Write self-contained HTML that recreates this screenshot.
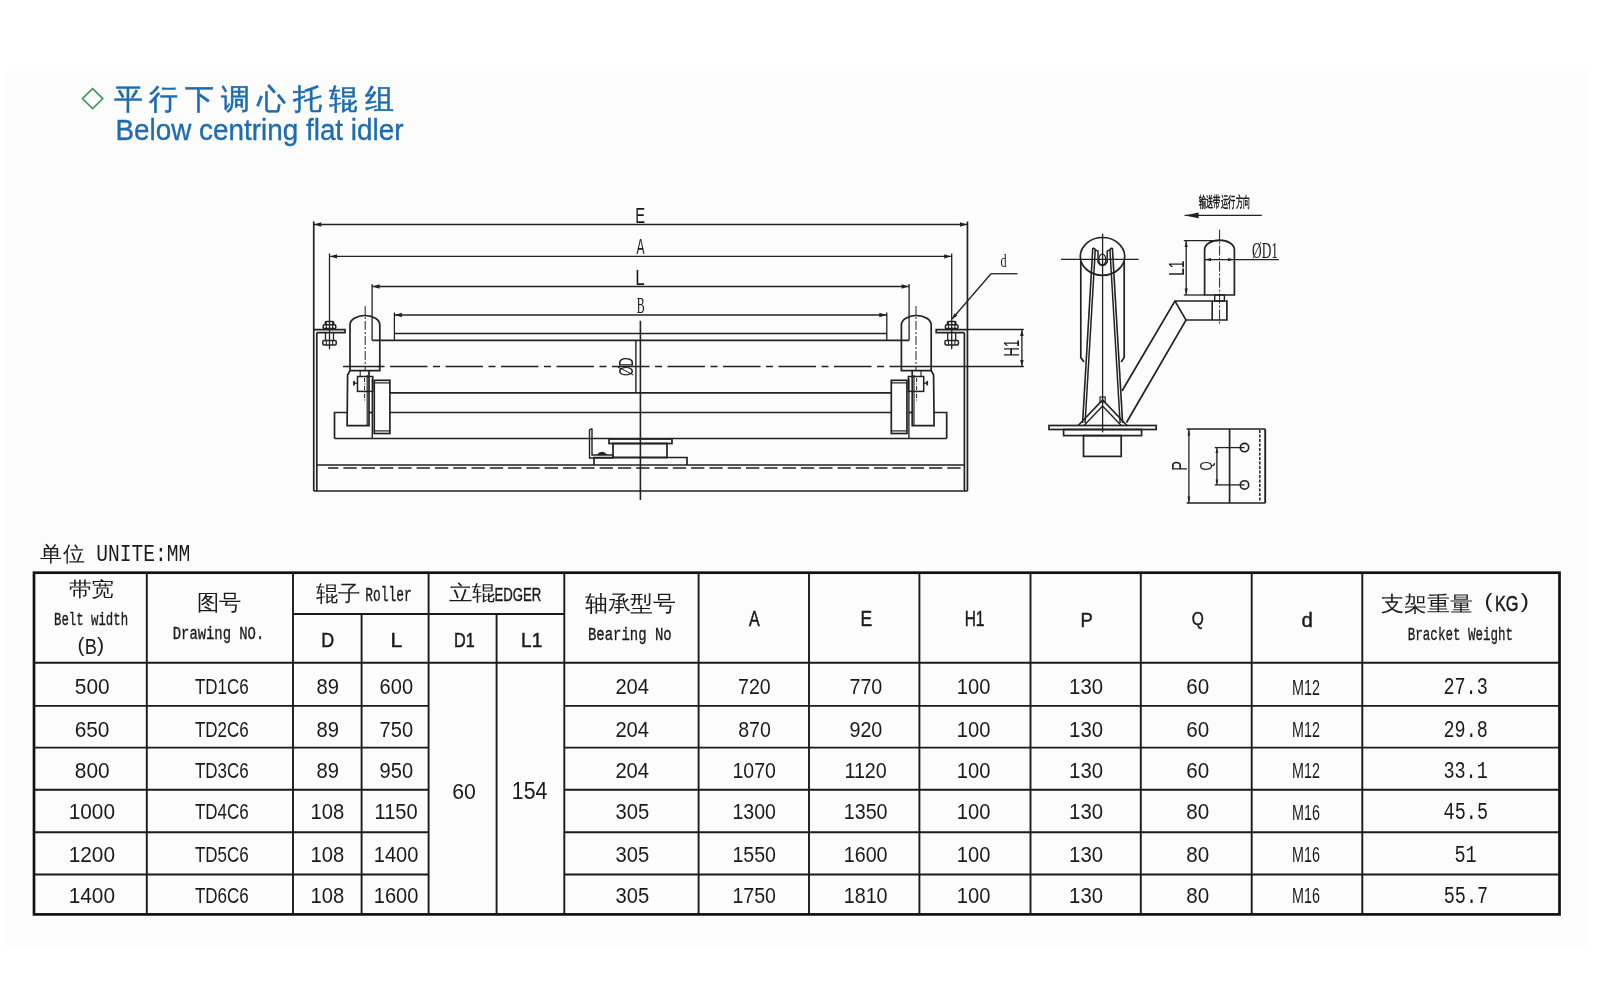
<!DOCTYPE html>
<html><head><meta charset="utf-8">
<style>
html,body{margin:0;padding:0;background:#fff;}
body{width:1600px;height:1007px;overflow:hidden;position:relative;font-family:"Liberation Sans",sans-serif;}
svg{position:absolute;left:0;top:0;} text{-webkit-font-smoothing:antialiased;} body{will-change:transform;}
</style></head><body>
<svg width="1600" height="1007" viewBox="0 0 1600 1007">
<rect x="6" y="71" width="1582" height="875" fill="#fcfcfc"/>
<polygon points="92.6,88.6 102.8,98.6 92.6,108.6 82.4,98.6" fill="none" stroke="#3a9a5e" stroke-width="1.6"/>
<text x="113.5" y="109" font-size="29" font-weight="500" fill="#1d6bb0" stroke="#1d6bb0" stroke-width="0.5" font-family="Liberation Sans" textLength="280" lengthAdjust="spacing">平行下调心托辊组</text>
<text x="115.5" y="139.5" font-size="29" fill="#1d6bb0" stroke="#1d6bb0" stroke-width="0.35" font-family="Liberation Sans" textLength="288" lengthAdjust="spacingAndGlyphs">Below centring flat idler</text>
<g stroke="#222" stroke-linecap="butt" fill="none">
<line x1="313.75" y1="224.5" x2="967.45" y2="224.5" stroke-width="1.3" />
<polygon points="314.25,224.5 321.25,222.3 321.25,226.7" fill="#222" stroke="none"/>
<polygon points="966.95,224.5 959.95,226.7 959.95,222.3" fill="#222" stroke="none"/>
<line x1="329.5" y1="256.4" x2="951.7" y2="256.4" stroke-width="1.3" />
<polygon points="330.0,256.4 337.0,254.2 337.0,258.6" fill="#222" stroke="none"/>
<polygon points="951.2,256.4 944.2,258.6 944.2,254.2" fill="#222" stroke="none"/>
<line x1="372.1" y1="286.5" x2="909.1" y2="286.5" stroke-width="1.3" />
<polygon points="372.6,286.5 379.6,284.3 379.6,288.7" fill="#222" stroke="none"/>
<polygon points="908.6,286.5 901.6,288.7 901.6,284.3" fill="#222" stroke="none"/>
<line x1="394.4" y1="315.0" x2="886.8" y2="315.0" stroke-width="1.3" />
<polygon points="394.9,315.0 401.9,312.8 401.9,317.2" fill="#222" stroke="none"/>
<polygon points="886.3,315.0 879.3,317.2 879.3,312.8" fill="#222" stroke="none"/>
<line x1="313.75" y1="221.5" x2="313.75" y2="491" stroke-width="1.7" />
<line x1="967.45" y1="221.5" x2="967.45" y2="491" stroke-width="1.7" />
<line x1="329.5" y1="253.5" x2="329.5" y2="323" stroke-width="1.3" />
<line x1="951.7" y1="253.5" x2="951.7" y2="323" stroke-width="1.3" />
<line x1="372.1" y1="284" x2="372.1" y2="340.3" stroke-width="1.3" />
<line x1="909.1" y1="284" x2="909.1" y2="340.3" stroke-width="1.3" />
<line x1="394.4" y1="312.5" x2="394.4" y2="340.3" stroke-width="1.3" />
<line x1="886.8" y1="312.5" x2="886.8" y2="340.3" stroke-width="1.3" />
<line x1="316.8" y1="332.5" x2="316.8" y2="491" stroke-width="1.7" />
<line x1="964.4" y1="332.5" x2="964.4" y2="491" stroke-width="1.7" />
<polyline points="313.75,329.7 345,329.7 345,332.6 316.8,332.6" fill="none" stroke-width="1.7" />
<polyline points="967.45,329.7 936.2,329.7 936.2,332.6 964.4,332.6" fill="none" stroke-width="1.7" />
<line x1="316.8" y1="465" x2="964.4" y2="465" stroke-width="1.7" />
<line x1="328.1" y1="468" x2="964" y2="468" stroke-width="1.6" stroke-dasharray="13.3 5" stroke-dashoffset="3"/>
<line x1="313.75" y1="491" x2="967.45" y2="491" stroke-width="1.7" />
<line x1="329.5" y1="323" x2="329.5" y2="349.3" stroke-width="1.3" />
<path d="M325.3,325 L325.3,322.6 Q325.3,321.4 326.5,321.4 L332.5,321.4 Q333.7,321.4 333.7,322.6 L333.7,325" stroke-width="1.5"/>
<rect x="323.2" y="324.8" width="12.6" height="3.8" rx="1.2" stroke-width="1.5"/>
<line x1="326.3" y1="321.4" x2="326.3" y2="328.6" stroke-width="1.1" />
<line x1="332.7" y1="321.4" x2="332.7" y2="328.6" stroke-width="1.1" />
<line x1="325.5" y1="333" x2="325.5" y2="340.4" stroke-width="1.3" />
<line x1="333.5" y1="333" x2="333.5" y2="340.4" stroke-width="1.3" />
<rect x="322.8" y="340.4" width="13.4" height="4.5" rx="1.2" stroke-width="1.5"/>
<line x1="326.3" y1="340.4" x2="326.3" y2="344.9" stroke-width="1.1" />
<line x1="332.7" y1="340.4" x2="332.7" y2="344.9" stroke-width="1.1" />
<line x1="951.7" y1="323" x2="951.7" y2="349.3" stroke-width="1.3" />
<path d="M947.5,325 L947.5,322.6 Q947.5,321.4 948.7,321.4 L954.7,321.4 Q955.9000000000001,321.4 955.9000000000001,322.6 L955.9000000000001,325" stroke-width="1.5"/>
<rect x="945.4000000000001" y="324.8" width="12.6" height="3.8" rx="1.2" stroke-width="1.5"/>
<line x1="948.5" y1="321.4" x2="948.5" y2="328.6" stroke-width="1.1" />
<line x1="954.9000000000001" y1="321.4" x2="954.9000000000001" y2="328.6" stroke-width="1.1" />
<line x1="947.7" y1="333" x2="947.7" y2="340.4" stroke-width="1.3" />
<line x1="955.7" y1="333" x2="955.7" y2="340.4" stroke-width="1.3" />
<rect x="945.0" y="340.4" width="13.4" height="4.5" rx="1.2" stroke-width="1.5"/>
<line x1="948.5" y1="340.4" x2="948.5" y2="344.9" stroke-width="1.1" />
<line x1="954.9000000000001" y1="340.4" x2="954.9000000000001" y2="344.9" stroke-width="1.1" />
<path d="M350,370.6 L350,325 A14.9,9.5 0 0 1 379.8,325 L379.8,370.6 Z" stroke-width="1.7"/>
<line x1="365.2" y1="306" x2="365.2" y2="370.6" stroke-width="1.0" stroke-dasharray="9 2 2 2"/>
<polyline points="350,370.6 347.6,375 347.1,425.7 369,425.7 369,370.6" fill="none" stroke-width="1.7" />
<line x1="367.2" y1="375" x2="367.2" y2="425.7" stroke-width="1.2" />
<rect x="357.5" y="376.5" width="15.3" height="14.9" fill="none" stroke-width="1.5" />
<line x1="353.6" y1="383.2" x2="357.5" y2="383.2" stroke-width="1.3" />
<line x1="354" y1="381" x2="354" y2="385.4" stroke-width="1.8" />
<line x1="360.2" y1="370.6" x2="360.2" y2="376.5" stroke-width="1.1" />
<line x1="364.6" y1="378" x2="364.6" y2="402" stroke-width="1.0" stroke-dasharray="4 1.5 1 1.5"/>
<rect x="374.25" y="380.3" width="15.65" height="53.2" fill="none" stroke-width="1.7" />
<line x1="374.25" y1="382.9" x2="389.9" y2="382.9" stroke-width="1.2" />
<line x1="374.25" y1="430.9" x2="389.9" y2="430.9" stroke-width="1.2" />
<line x1="372.3" y1="378.5" x2="372.3" y2="438.5" stroke-width="1.4" />
<polyline points="347.2,412.5 334.5,412.5 334.5,438.5" fill="none" stroke-width="1.7" />
<line x1="369" y1="412.5" x2="372.3" y2="412.5" stroke-width="1.7" />
<path d="M931.2,370.6 L931.2,325 A14.9,9.5 0 0 0 901.4,325 L901.4,370.6 Z" stroke-width="1.7"/>
<line x1="916.0" y1="306" x2="916.0" y2="370.6" stroke-width="1.0" stroke-dasharray="9 2 2 2"/>
<polyline points="931.2,370.6 933.6,375 934.1,425.7 912.2,425.7 912.2,370.6" fill="none" stroke-width="1.7" />
<line x1="914.0" y1="375" x2="914.0" y2="425.7" stroke-width="1.2" />
<rect x="908.4" y="376.5" width="15.3" height="14.9" fill="none" stroke-width="1.5" />
<line x1="927.6" y1="383.2" x2="923.7" y2="383.2" stroke-width="1.3" />
<line x1="927.2" y1="381" x2="927.2" y2="385.4" stroke-width="1.8" />
<line x1="921.0" y1="370.6" x2="921.0" y2="376.5" stroke-width="1.1" />
<line x1="916.6" y1="378" x2="916.6" y2="402" stroke-width="1.0" stroke-dasharray="4 1.5 1 1.5"/>
<rect x="891.3" y="380.3" width="15.65" height="53.2" fill="none" stroke-width="1.7" />
<line x1="906.95" y1="382.9" x2="891.3" y2="382.9" stroke-width="1.2" />
<line x1="906.95" y1="430.9" x2="891.3" y2="430.9" stroke-width="1.2" />
<line x1="908.9" y1="378.5" x2="908.9" y2="438.5" stroke-width="1.4" />
<polyline points="934.0,412.5 946.7,412.5 946.7,438.5" fill="none" stroke-width="1.7" />
<line x1="912.2" y1="412.5" x2="908.9" y2="412.5" stroke-width="1.7" />
<line x1="394.4" y1="333.5" x2="886.8" y2="333.5" stroke-width="1.7" />
<line x1="372.1" y1="340.3" x2="909.1" y2="340.3" stroke-width="1.7" />
<line x1="389.9" y1="392.8" x2="891.3" y2="392.8" stroke-width="1.7" />
<line x1="389.9" y1="412.5" x2="891.3" y2="412.5" stroke-width="1.7" />
<line x1="334.5" y1="438.5" x2="946.7" y2="438.5" stroke-width="1.7" />
<line x1="343" y1="366.5" x2="380" y2="366.5" stroke-width="1.4" />
<line x1="377.5" y1="366.5" x2="901" y2="366.5" stroke-width="1.4" stroke-dasharray="7 5.5 37.5 5.5"/>
<line x1="901" y1="366.5" x2="1023.75" y2="366.5" stroke-width="1.3" />
<line x1="640.4" y1="320.75" x2="640.4" y2="500" stroke-width="1.6" />
<line x1="635.9" y1="340.3" x2="635.9" y2="392.8" stroke-width="1.4" />
<polyline points="592,428.5 589.5,430 589.5,458 613,458 613,455 592,455 592,428.5" fill="none" stroke-width="1.4" />
<path d="M596.5,455 Q602,448.5 607.5,455 Z" fill="#222" stroke="none"/>
<rect x="609" y="439" width="63" height="4.5" fill="none" stroke-width="1.7" />
<rect x="613" y="443.5" width="54" height="14.0" fill="none" stroke-width="1.7" />
<polyline points="594,465 594,457.5 687,457.5 687,465" fill="none" stroke-width="1.7" />
<line x1="952" y1="319" x2="991" y2="273.75" stroke-width="1.3" />
<line x1="991" y1="273.75" x2="1017.5" y2="273.75" stroke-width="1.3" />
<polygon points="952,319 954.4,313.15 957.43,315.76" fill="#222" stroke="none"/>
<line x1="967.5" y1="329.5" x2="1023.75" y2="329.5" stroke-width="1.3" />
<line x1="1021.9" y1="329.5" x2="1021.9" y2="366.5" stroke-width="1.3" />
<polygon points="1021.9,330 1023.7,336.0 1020.1,336.0" fill="#222" stroke="none"/>
<polygon points="1021.9,366 1020.1,360.0 1023.7,360.0" fill="#222" stroke="none"/>
<line x1="1184.6" y1="215.4" x2="1261.8" y2="215.4" stroke-width="1.2" />
<polygon points="1184.6,215.4 1198.6,212.6 1198.6,218.2" fill="#222" stroke="none"/>
<ellipse cx="1102.5" cy="256.4" rx="22.2" ry="18.9" stroke-width="1.7"/>
<line x1="1061" y1="259.3" x2="1138.6" y2="259.3" stroke-width="1.3" />
<line x1="1102.6" y1="233.6" x2="1102.6" y2="432.4" stroke-width="1.3" />
<polyline points="1080.8,261 1080.8,357.6 1084,362" fill="none" stroke-width="1.7" />
<polyline points="1124.2,261 1124.2,357.6 1121.2,362" fill="none" stroke-width="1.7" />
<line x1="1092.8" y1="248" x2="1082.6" y2="423" stroke-width="1.6" />
<line x1="1095.3" y1="249" x2="1085.1" y2="423" stroke-width="1.5" />
<line x1="1092.8" y1="248" x2="1095.3" y2="249" stroke-width="1.4" />
<line x1="1112.4" y1="248" x2="1122.6" y2="423" stroke-width="1.6" />
<line x1="1109.9" y1="249" x2="1120.1" y2="423" stroke-width="1.5" />
<line x1="1112.4" y1="248" x2="1109.9" y2="249" stroke-width="1.4" />
<path d="M1095.2,250 L1098,251 L1098,262 Q1102.6,269 1107.2,262 L1107.2,251 L1110,250" stroke-width="1.5"/>
<ellipse cx="1102.3" cy="259.5" rx="3.4" ry="5.4" stroke-width="1.3"/>
<polyline points="1078.2,425.5 1102.6,400 1127,425.5" fill="none" stroke-width="1.7" />
<polyline points="1084,425.5 1102.6,406 1121.2,425.5" fill="none" stroke-width="1.4" />
<rect x="1100" y="397" width="5.2" height="5" fill="none" stroke-width="1.2" />
<rect x="1049" y="425.5" width="107.2" height="4.0" fill="none" stroke-width="1.7" />
<rect x="1063.6" y="429.5" width="78.0" height="6.1" fill="none" stroke-width="1.7" />
<rect x="1083.5" y="435.6" width="37.7" height="20.8" fill="none" stroke-width="1.7" />
<polyline points="1122,391 1174.9,301 1226.9,301 1226.9,320 1186,320 1126.5,422.5" fill="none" stroke-width="1.7" />
<line x1="1174.9" y1="301" x2="1186" y2="320" stroke-width="1.5" />
<line x1="1212.2" y1="301" x2="1212.2" y2="320" stroke-width="1.6" />
<rect x="1214.7" y="295" width="9.7" height="6" fill="none" stroke-width="1.4" />
<path d="M1204.6,295 L1204.6,249.5 A14.9,9.3 0 0 1 1234.4,249.5 L1234.4,295 Z" stroke-width="1.7"/>
<line x1="1219.6" y1="229.6" x2="1219.6" y2="324.6" stroke-width="1.0" stroke-dasharray="10 2 2 2"/>
<line x1="1183.8" y1="240.6" x2="1219.6" y2="240.6" stroke-width="1.3" />
<line x1="1183.8" y1="295" x2="1204.4" y2="295" stroke-width="1.3" />
<line x1="1186.2" y1="240.6" x2="1186.2" y2="295" stroke-width="1.3" />
<polygon points="1186.2,241 1187.8,247.0 1184.6,247.0" fill="#222" stroke="none"/>
<polygon points="1186.2,294.5 1184.6,288.5 1187.8,288.5" fill="#222" stroke="none"/>
<line x1="1204.4" y1="259.6" x2="1278.9" y2="259.6" stroke-width="1.3" />
<polygon points="1205,259.6 1211.0,258.0 1211.0,261.2" fill="#222" stroke="none"/>
<polygon points="1234,259.6 1228.0,261.2 1228.0,258.0" fill="#222" stroke="none"/>
<line x1="1186.6" y1="429" x2="1265.2" y2="429" stroke-width="1.7" />
<line x1="1186.6" y1="503" x2="1265.2" y2="503" stroke-width="1.7" />
<line x1="1229.6" y1="429" x2="1229.6" y2="503" stroke-width="1.7" />
<line x1="1265.2" y1="429" x2="1265.2" y2="503" stroke-width="1.9" />
<line x1="1259.8" y1="430" x2="1259.8" y2="502" stroke-width="1.5" stroke-dasharray="3 1.5"/>
<circle cx="1244.5" cy="447.6" r="4.2" stroke-width="1.6"/>
<circle cx="1244.5" cy="484.9" r="4.2" stroke-width="1.6"/>
<line x1="1214.7" y1="447.6" x2="1244.5" y2="447.6" stroke-width="1.3" />
<line x1="1214.7" y1="484.9" x2="1244.5" y2="484.9" stroke-width="1.3" />
<line x1="1216.9" y1="447.6" x2="1216.9" y2="484.9" stroke-width="1.3" />
<polygon points="1216.9,448 1218.3,453.0 1215.5,453.0" fill="#222" stroke="none"/>
<polygon points="1216.9,484.5 1215.5,479.5 1218.3,479.5" fill="#222" stroke="none"/>
<line x1="1188.9" y1="429" x2="1188.9" y2="503" stroke-width="1.3" />
<polygon points="1188.9,429.5 1190.3,435.5 1187.5,435.5" fill="#222" stroke="none"/>
<polygon points="1188.9,502.5 1187.5,496.5 1190.3,496.5" fill="#222" stroke="none"/>
</g>
<text x="0" y="0" font-size="100" font-family="Liberation Sans" font-weight="400" fill="#1a1a1a" transform="translate(635.31,222.50) scale(0.1481,0.2246)">E</text>
<text x="0" y="0" font-size="100" font-family="Liberation Sans" font-weight="400" fill="#1a1a1a" transform="translate(636.50,254.00) scale(0.1212,0.2174)">A</text>
<text x="0" y="0" font-size="100" font-family="Liberation Sans" font-weight="400" fill="#1a1a1a" transform="translate(635.14,285.00) scale(0.1705,0.2174)">L</text>
<text x="0" y="0" font-size="100" font-family="Liberation Serif" font-weight="400" fill="#1a1a1a" transform="translate(636.64,312.50) scale(0.1186,0.2385)">B</text>
<text x="0" y="0" font-size="100" font-family="Liberation Serif" font-weight="400" fill="#1a1a1a" transform="translate(1000.51,266.81) scale(0.1222,0.1929)">d</text>
<text x="0" y="0" font-size="100" font-family="Liberation Sans" font-weight="400" fill="#1a1a1a" transform="translate(1019.20,356.44) rotate(-90) scale(0.1296,0.2261)">H1</text>
<text x="0" y="0" font-size="100" font-family="Liberation Sans" font-weight="400" fill="#1a1a1a" transform="translate(633.34,376.10) rotate(-90) scale(0.1248,0.2074)">ØD</text>
<text x="0" y="0" font-size="100" font-family="Liberation Sans" font-weight="400" fill="#1a1a1a" transform="translate(1183.80,275.79) rotate(-90) scale(0.1367,0.2203)">L1</text>
<text x="0" y="0" font-size="100" font-family="Liberation Sans" font-weight="400" fill="#1a1a1a" transform="translate(1186.60,470.86) rotate(-90) scale(0.1453,0.2159)">P</text>
<text x="0" y="0" font-size="100" font-family="Liberation Sans" font-weight="400" fill="#1a1a1a" transform="translate(1211.73,470.59) rotate(-90) scale(0.1176,0.1719)">Q</text>
<text x="0" y="0" font-size="100" font-family="Liberation Serif" font-weight="400" fill="#1a1a1a" transform="translate(1252.07,257.92) scale(0.1337,0.2268)">ØD1</text>
<text x="0" y="0" font-size="100" font-family="Liberation Sans" font-weight="900" fill="#1a1a1a" transform="translate(1198.54,206.99) scale(0.0722,0.1471)">输送带运行方向</text>
<text x="0" y="0" font-size="100" font-family="Liberation Sans" font-weight="500" fill="#1a1a1a" transform="translate(40.15,560.71) scale(0.2258,0.2147)">单位</text>
<text x="0" y="0" font-size="100" font-family="Liberation Mono" font-weight="400" fill="#1a1a1a" transform="translate(96.13,561.02) scale(0.1959,0.2336)">UNITE:MM</text>
<text x="0" y="0" font-size="100" font-family="Liberation Sans" font-weight="500" fill="#1a1a1a" transform="translate(68.82,596.24) scale(0.2266,0.1970)">带宽</text>
<text x="0" y="0" font-size="100" font-family="Liberation Mono" font-weight="400" fill="#1a1a1a" stroke="#1a1a1a" stroke-width="1.8" transform="translate(54.01,625.31) scale(0.1235,0.1892)">Belt width</text>
<text x="0" y="0" font-size="100" font-family="Liberation Sans" font-weight="400" fill="#1a1a1a" transform="translate(77.57,652.28) scale(0.2058,0.2106)">(</text>
<text x="0" y="0" font-size="100" font-family="Liberation Sans" font-weight="400" fill="#1a1a1a" transform="translate(84.74,654.20) scale(0.1830,0.2203)">B</text>
<text x="0" y="0" font-size="100" font-family="Liberation Sans" font-weight="400" fill="#1a1a1a" transform="translate(97.08,652.28) scale(0.2154,0.2106)">)</text>
<text x="0" y="0" font-size="100" font-family="Liberation Sans" font-weight="500" fill="#1a1a1a" transform="translate(196.90,610.11) scale(0.2245,0.2220)">图号</text>
<text x="0" y="0" font-size="100" font-family="Liberation Mono" font-weight="400" fill="#1a1a1a" stroke="#1a1a1a" stroke-width="1.8" transform="translate(172.79,638.52) scale(0.1387,0.1894)">Drawing NO.</text>
<text x="0" y="0" font-size="100" font-family="Liberation Sans" font-weight="500" fill="#1a1a1a" transform="translate(316.03,600.58) scale(0.2219,0.2170)">辊子</text>
<text x="0" y="0" font-size="100" font-family="Liberation Mono" font-weight="400" fill="#1a1a1a" stroke="#1a1a1a" stroke-width="1.8" transform="translate(365.27,600.51) scale(0.1289,0.1932)">Roller</text>
<text x="0" y="0" font-size="100" font-family="Liberation Sans" font-weight="500" fill="#1a1a1a" transform="translate(449.04,600.32) scale(0.2304,0.2062)">立辊</text>
<text x="0" y="0" font-size="100" font-family="Liberation Sans" font-weight="400" fill="#1a1a1a" stroke="#1a1a1a" stroke-width="2.2" transform="translate(494.45,600.51) scale(0.1316,0.1901)">EDGER</text>
<text x="0" y="0" font-size="100" font-family="Liberation Sans" font-weight="400" fill="#1a1a1a" stroke="#1a1a1a" stroke-width="2.2" transform="translate(321.32,646.50) scale(0.1788,0.2000)">D</text>
<text x="0" y="0" font-size="100" font-family="Liberation Sans" font-weight="400" fill="#1a1a1a" stroke="#1a1a1a" stroke-width="2.2" transform="translate(390.61,646.50) scale(0.2114,0.2000)">L</text>
<text x="0" y="0" font-size="100" font-family="Liberation Sans" font-weight="400" fill="#1a1a1a" stroke="#1a1a1a" stroke-width="2.2" transform="translate(453.90,646.50) scale(0.1626,0.2000)">D1</text>
<text x="0" y="0" font-size="100" font-family="Liberation Sans" font-weight="400" fill="#1a1a1a" stroke="#1a1a1a" stroke-width="2.2" transform="translate(521.07,646.50) scale(0.1908,0.2000)">L1</text>
<text x="0" y="0" font-size="100" font-family="Liberation Sans" font-weight="500" fill="#1a1a1a" transform="translate(585.17,611.42) scale(0.2268,0.2174)">轴承型号</text>
<text x="0" y="0" font-size="100" font-family="Liberation Mono" font-weight="400" fill="#1a1a1a" stroke="#1a1a1a" stroke-width="1.8" transform="translate(587.98,639.57) scale(0.1396,0.1872)">Bearing No</text>
<text x="0" y="0" font-size="100" font-family="Liberation Sans" font-weight="400" fill="#1a1a1a" stroke="#1a1a1a" stroke-width="2.2" transform="translate(748.90,625.90) scale(0.1606,0.2246)">A</text>
<text x="0" y="0" font-size="100" font-family="Liberation Sans" font-weight="400" fill="#1a1a1a" stroke="#1a1a1a" stroke-width="2.2" transform="translate(860.51,625.90) scale(0.1741,0.2246)">E</text>
<text x="0" y="0" font-size="100" font-family="Liberation Sans" font-weight="400" fill="#1a1a1a" stroke="#1a1a1a" stroke-width="2.2" transform="translate(964.66,625.90) scale(0.1552,0.2246)">H1</text>
<text x="0" y="0" font-size="100" font-family="Liberation Sans" font-weight="400" fill="#1a1a1a" stroke="#1a1a1a" stroke-width="2.2" transform="translate(1080.42,627.00) scale(0.1849,0.2072)">P</text>
<text x="0" y="0" font-size="100" font-family="Liberation Sans" font-weight="400" fill="#1a1a1a" stroke="#1a1a1a" stroke-width="2.2" transform="translate(1191.72,625.05) scale(0.1559,0.1764)">Q</text>
<text x="0" y="0" font-size="100" font-family="Liberation Sans" font-weight="400" fill="#1a1a1a" stroke="#1a1a1a" stroke-width="2.2" transform="translate(1301.38,626.80) scale(0.2044,0.2041)">d</text>
<text x="0" y="0" font-size="100" font-family="Liberation Sans" font-weight="500" fill="#1a1a1a" transform="translate(1381.02,610.61) scale(0.2257,0.2062)">支架重量</text>
<text x="0" y="0" font-size="100" font-family="Liberation Sans" font-weight="400" fill="#1a1a1a" transform="translate(1484.47,608.09) scale(0.2385,0.2053)">(</text>
<text x="0" y="0" font-size="100" font-family="Liberation Sans" font-weight="400" fill="#1a1a1a" stroke="#1a1a1a" stroke-width="2.2" transform="translate(1494.90,610.68) scale(0.1628,0.2197)">KG</text>
<text x="0" y="0" font-size="100" font-family="Liberation Sans" font-weight="400" fill="#1a1a1a" transform="translate(1520.65,607.80) scale(0.2462,0.2000)">)</text>
<text x="0" y="0" font-size="100" font-family="Liberation Mono" font-weight="400" fill="#1a1a1a" stroke="#1a1a1a" stroke-width="1.8" transform="translate(1407.80,639.57) scale(0.1254,0.1872)">Bracket Weight</text>
<text x="0" y="0" font-size="100" font-family="Liberation Sans" font-weight="400" fill="#1a1a1a" transform="translate(74.79,694.33) scale(0.2085,0.2225)">500</text>
<text x="0" y="0" font-size="100" font-family="Liberation Sans" font-weight="400" fill="#1a1a1a" transform="translate(194.88,694.33) scale(0.1702,0.2225)">TD1C6</text>
<text x="0" y="0" font-size="100" font-family="Liberation Sans" font-weight="400" fill="#1a1a1a" transform="translate(316.59,694.33) scale(0.2020,0.2225)">89</text>
<text x="0" y="0" font-size="100" font-family="Liberation Sans" font-weight="400" fill="#1a1a1a" transform="translate(379.60,694.33) scale(0.2006,0.2225)">600</text>
<text x="0" y="0" font-size="100" font-family="Liberation Sans" font-weight="400" fill="#1a1a1a" transform="translate(615.39,694.33) scale(0.2019,0.2225)">204</text>
<text x="0" y="0" font-size="100" font-family="Liberation Sans" font-weight="400" fill="#1a1a1a" transform="translate(738.12,694.33) scale(0.1956,0.2225)">720</text>
<text x="0" y="0" font-size="100" font-family="Liberation Sans" font-weight="400" fill="#1a1a1a" transform="translate(849.41,694.33) scale(0.1975,0.2225)">770</text>
<text x="0" y="0" font-size="100" font-family="Liberation Sans" font-weight="400" fill="#1a1a1a" transform="translate(956.79,694.33) scale(0.2013,0.2225)">100</text>
<text x="0" y="0" font-size="100" font-family="Liberation Sans" font-weight="400" fill="#1a1a1a" transform="translate(1069.12,694.33) scale(0.2032,0.2225)">130</text>
<text x="0" y="0" font-size="100" font-family="Liberation Sans" font-weight="400" fill="#1a1a1a" transform="translate(1186.27,694.33) scale(0.2059,0.2225)">60</text>
<text x="0" y="0" font-size="100" font-family="Liberation Sans" font-weight="400" fill="#1a1a1a" transform="translate(1292.05,694.55) scale(0.1434,0.2257)">M12</text>
<text x="0" y="0" font-size="100" font-family="Liberation Mono" font-weight="400" fill="#1a1a1a" transform="translate(1443.40,694.32) scale(0.1850,0.2324)">27.3</text>
<text x="0" y="0" font-size="100" font-family="Liberation Sans" font-weight="400" fill="#1a1a1a" transform="translate(74.69,736.58) scale(0.2085,0.2225)">650</text>
<text x="0" y="0" font-size="100" font-family="Liberation Sans" font-weight="400" fill="#1a1a1a" transform="translate(194.88,736.58) scale(0.1702,0.2225)">TD2C6</text>
<text x="0" y="0" font-size="100" font-family="Liberation Sans" font-weight="400" fill="#1a1a1a" transform="translate(316.59,736.58) scale(0.2020,0.2225)">89</text>
<text x="0" y="0" font-size="100" font-family="Liberation Sans" font-weight="400" fill="#1a1a1a" transform="translate(379.60,736.58) scale(0.2006,0.2225)">750</text>
<text x="0" y="0" font-size="100" font-family="Liberation Sans" font-weight="400" fill="#1a1a1a" transform="translate(615.39,736.58) scale(0.2019,0.2225)">204</text>
<text x="0" y="0" font-size="100" font-family="Liberation Sans" font-weight="400" fill="#1a1a1a" transform="translate(738.22,736.58) scale(0.1956,0.2225)">870</text>
<text x="0" y="0" font-size="100" font-family="Liberation Sans" font-weight="400" fill="#1a1a1a" transform="translate(849.41,736.58) scale(0.1975,0.2225)">920</text>
<text x="0" y="0" font-size="100" font-family="Liberation Sans" font-weight="400" fill="#1a1a1a" transform="translate(956.79,736.58) scale(0.2013,0.2225)">100</text>
<text x="0" y="0" font-size="100" font-family="Liberation Sans" font-weight="400" fill="#1a1a1a" transform="translate(1069.12,736.58) scale(0.2032,0.2225)">130</text>
<text x="0" y="0" font-size="100" font-family="Liberation Sans" font-weight="400" fill="#1a1a1a" transform="translate(1186.27,736.58) scale(0.2059,0.2225)">60</text>
<text x="0" y="0" font-size="100" font-family="Liberation Sans" font-weight="400" fill="#1a1a1a" transform="translate(1292.05,736.80) scale(0.1434,0.2257)">M12</text>
<text x="0" y="0" font-size="100" font-family="Liberation Mono" font-weight="400" fill="#1a1a1a" transform="translate(1443.50,736.57) scale(0.1850,0.2324)">29.8</text>
<text x="0" y="0" font-size="100" font-family="Liberation Sans" font-weight="400" fill="#1a1a1a" transform="translate(74.79,778.08) scale(0.2085,0.2225)">800</text>
<text x="0" y="0" font-size="100" font-family="Liberation Sans" font-weight="400" fill="#1a1a1a" transform="translate(194.88,778.08) scale(0.1702,0.2225)">TD3C6</text>
<text x="0" y="0" font-size="100" font-family="Liberation Sans" font-weight="400" fill="#1a1a1a" transform="translate(316.59,778.08) scale(0.2020,0.2225)">89</text>
<text x="0" y="0" font-size="100" font-family="Liberation Sans" font-weight="400" fill="#1a1a1a" transform="translate(379.60,778.08) scale(0.2006,0.2225)">950</text>
<text x="0" y="0" font-size="100" font-family="Liberation Sans" font-weight="400" fill="#1a1a1a" transform="translate(615.39,778.08) scale(0.2019,0.2225)">204</text>
<text x="0" y="0" font-size="100" font-family="Liberation Sans" font-weight="400" fill="#1a1a1a" transform="translate(732.45,778.08) scale(0.1956,0.2225)">1070</text>
<text x="0" y="0" font-size="100" font-family="Liberation Sans" font-weight="400" fill="#1a1a1a" transform="translate(844.38,778.08) scale(0.1975,0.2225)">1120</text>
<text x="0" y="0" font-size="100" font-family="Liberation Sans" font-weight="400" fill="#1a1a1a" transform="translate(956.79,778.08) scale(0.2013,0.2225)">100</text>
<text x="0" y="0" font-size="100" font-family="Liberation Sans" font-weight="400" fill="#1a1a1a" transform="translate(1069.12,778.08) scale(0.2032,0.2225)">130</text>
<text x="0" y="0" font-size="100" font-family="Liberation Sans" font-weight="400" fill="#1a1a1a" transform="translate(1186.27,778.08) scale(0.2059,0.2225)">60</text>
<text x="0" y="0" font-size="100" font-family="Liberation Sans" font-weight="400" fill="#1a1a1a" transform="translate(1292.05,778.30) scale(0.1434,0.2257)">M12</text>
<text x="0" y="0" font-size="100" font-family="Liberation Mono" font-weight="400" fill="#1a1a1a" transform="translate(1443.40,778.07) scale(0.1850,0.2324)">33.1</text>
<text x="0" y="0" font-size="100" font-family="Liberation Sans" font-weight="400" fill="#1a1a1a" transform="translate(68.64,819.33) scale(0.2085,0.2225)">1000</text>
<text x="0" y="0" font-size="100" font-family="Liberation Sans" font-weight="400" fill="#1a1a1a" transform="translate(194.88,819.33) scale(0.1702,0.2225)">TD4C6</text>
<text x="0" y="0" font-size="100" font-family="Liberation Sans" font-weight="400" fill="#1a1a1a" transform="translate(310.53,819.33) scale(0.2020,0.2225)">108</text>
<text x="0" y="0" font-size="100" font-family="Liberation Sans" font-weight="400" fill="#1a1a1a" transform="translate(374.48,819.33) scale(0.2006,0.2225)">1150</text>
<text x="0" y="0" font-size="100" font-family="Liberation Sans" font-weight="400" fill="#1a1a1a" transform="translate(615.59,819.33) scale(0.2019,0.2225)">305</text>
<text x="0" y="0" font-size="100" font-family="Liberation Sans" font-weight="400" fill="#1a1a1a" transform="translate(732.45,819.33) scale(0.1956,0.2225)">1300</text>
<text x="0" y="0" font-size="100" font-family="Liberation Sans" font-weight="400" fill="#1a1a1a" transform="translate(843.69,819.33) scale(0.1975,0.2225)">1350</text>
<text x="0" y="0" font-size="100" font-family="Liberation Sans" font-weight="400" fill="#1a1a1a" transform="translate(956.79,819.33) scale(0.2013,0.2225)">100</text>
<text x="0" y="0" font-size="100" font-family="Liberation Sans" font-weight="400" fill="#1a1a1a" transform="translate(1069.12,819.33) scale(0.2032,0.2225)">130</text>
<text x="0" y="0" font-size="100" font-family="Liberation Sans" font-weight="400" fill="#1a1a1a" transform="translate(1186.37,819.33) scale(0.2059,0.2225)">80</text>
<text x="0" y="0" font-size="100" font-family="Liberation Sans" font-weight="400" fill="#1a1a1a" transform="translate(1292.05,819.55) scale(0.1434,0.2257)">M16</text>
<text x="0" y="0" font-size="100" font-family="Liberation Mono" font-weight="400" fill="#1a1a1a" transform="translate(1443.59,819.32) scale(0.1850,0.2324)">45.5</text>
<text x="0" y="0" font-size="100" font-family="Liberation Sans" font-weight="400" fill="#1a1a1a" transform="translate(68.64,861.58) scale(0.2085,0.2225)">1200</text>
<text x="0" y="0" font-size="100" font-family="Liberation Sans" font-weight="400" fill="#1a1a1a" transform="translate(194.88,861.58) scale(0.1702,0.2225)">TD5C6</text>
<text x="0" y="0" font-size="100" font-family="Liberation Sans" font-weight="400" fill="#1a1a1a" transform="translate(310.53,861.58) scale(0.2020,0.2225)">108</text>
<text x="0" y="0" font-size="100" font-family="Liberation Sans" font-weight="400" fill="#1a1a1a" transform="translate(373.78,861.58) scale(0.2006,0.2225)">1400</text>
<text x="0" y="0" font-size="100" font-family="Liberation Sans" font-weight="400" fill="#1a1a1a" transform="translate(615.59,861.58) scale(0.2019,0.2225)">305</text>
<text x="0" y="0" font-size="100" font-family="Liberation Sans" font-weight="400" fill="#1a1a1a" transform="translate(732.45,861.58) scale(0.1956,0.2225)">1550</text>
<text x="0" y="0" font-size="100" font-family="Liberation Sans" font-weight="400" fill="#1a1a1a" transform="translate(843.69,861.58) scale(0.1975,0.2225)">1600</text>
<text x="0" y="0" font-size="100" font-family="Liberation Sans" font-weight="400" fill="#1a1a1a" transform="translate(956.79,861.58) scale(0.2013,0.2225)">100</text>
<text x="0" y="0" font-size="100" font-family="Liberation Sans" font-weight="400" fill="#1a1a1a" transform="translate(1069.12,861.58) scale(0.2032,0.2225)">130</text>
<text x="0" y="0" font-size="100" font-family="Liberation Sans" font-weight="400" fill="#1a1a1a" transform="translate(1186.37,861.58) scale(0.2059,0.2225)">80</text>
<text x="0" y="0" font-size="100" font-family="Liberation Sans" font-weight="400" fill="#1a1a1a" transform="translate(1292.05,861.80) scale(0.1434,0.2257)">M16</text>
<text x="0" y="0" font-size="100" font-family="Liberation Mono" font-weight="400" fill="#1a1a1a" transform="translate(1454.51,861.57) scale(0.1850,0.2324)">51</text>
<text x="0" y="0" font-size="100" font-family="Liberation Sans" font-weight="400" fill="#1a1a1a" transform="translate(68.64,903.08) scale(0.2085,0.2225)">1400</text>
<text x="0" y="0" font-size="100" font-family="Liberation Sans" font-weight="400" fill="#1a1a1a" transform="translate(194.88,903.08) scale(0.1702,0.2225)">TD6C6</text>
<text x="0" y="0" font-size="100" font-family="Liberation Sans" font-weight="400" fill="#1a1a1a" transform="translate(310.53,903.08) scale(0.2020,0.2225)">108</text>
<text x="0" y="0" font-size="100" font-family="Liberation Sans" font-weight="400" fill="#1a1a1a" transform="translate(373.78,903.08) scale(0.2006,0.2225)">1600</text>
<text x="0" y="0" font-size="100" font-family="Liberation Sans" font-weight="400" fill="#1a1a1a" transform="translate(615.59,903.08) scale(0.2019,0.2225)">305</text>
<text x="0" y="0" font-size="100" font-family="Liberation Sans" font-weight="400" fill="#1a1a1a" transform="translate(732.45,903.08) scale(0.1956,0.2225)">1750</text>
<text x="0" y="0" font-size="100" font-family="Liberation Sans" font-weight="400" fill="#1a1a1a" transform="translate(843.69,903.08) scale(0.1975,0.2225)">1810</text>
<text x="0" y="0" font-size="100" font-family="Liberation Sans" font-weight="400" fill="#1a1a1a" transform="translate(956.79,903.08) scale(0.2013,0.2225)">100</text>
<text x="0" y="0" font-size="100" font-family="Liberation Sans" font-weight="400" fill="#1a1a1a" transform="translate(1069.12,903.08) scale(0.2032,0.2225)">130</text>
<text x="0" y="0" font-size="100" font-family="Liberation Sans" font-weight="400" fill="#1a1a1a" transform="translate(1186.37,903.08) scale(0.2059,0.2225)">80</text>
<text x="0" y="0" font-size="100" font-family="Liberation Sans" font-weight="400" fill="#1a1a1a" transform="translate(1292.05,903.30) scale(0.1434,0.2257)">M16</text>
<text x="0" y="0" font-size="100" font-family="Liberation Mono" font-weight="400" fill="#1a1a1a" transform="translate(1443.68,903.07) scale(0.1850,0.2324)">55.7</text>
<text x="0" y="0" font-size="100" font-family="Liberation Sans" font-weight="400" fill="#1a1a1a" transform="translate(452.24,798.57) scale(0.2127,0.2268)">60</text>
<text x="0" y="0" font-size="100" font-family="Liberation Sans" font-weight="400" fill="#1a1a1a" transform="translate(511.79,798.57) scale(0.2135,0.2300)">154</text>
<line x1="146.8" y1="572.7" x2="146.8" y2="914.4" stroke="#1a1a1a" stroke-width="1.9"/>
<line x1="293" y1="572.7" x2="293" y2="914.4" stroke="#1a1a1a" stroke-width="1.9"/>
<line x1="428.6" y1="572.7" x2="428.6" y2="914.4" stroke="#1a1a1a" stroke-width="1.9"/>
<line x1="564.3" y1="572.7" x2="564.3" y2="914.4" stroke="#1a1a1a" stroke-width="1.9"/>
<line x1="698.6" y1="572.7" x2="698.6" y2="914.4" stroke="#1a1a1a" stroke-width="1.9"/>
<line x1="809" y1="572.7" x2="809" y2="914.4" stroke="#1a1a1a" stroke-width="1.9"/>
<line x1="919.4" y1="572.7" x2="919.4" y2="914.4" stroke="#1a1a1a" stroke-width="1.9"/>
<line x1="1030.5" y1="572.7" x2="1030.5" y2="914.4" stroke="#1a1a1a" stroke-width="1.9"/>
<line x1="1140.8" y1="572.7" x2="1140.8" y2="914.4" stroke="#1a1a1a" stroke-width="1.9"/>
<line x1="1251.7" y1="572.7" x2="1251.7" y2="914.4" stroke="#1a1a1a" stroke-width="1.9"/>
<line x1="1362.3" y1="572.7" x2="1362.3" y2="914.4" stroke="#1a1a1a" stroke-width="1.9"/>
<line x1="361.6" y1="614" x2="361.6" y2="914.4" stroke="#1a1a1a" stroke-width="1.9"/>
<line x1="496.6" y1="614" x2="496.6" y2="914.4" stroke="#1a1a1a" stroke-width="1.9"/>
<line x1="293" y1="614" x2="564.3" y2="614" stroke="#1a1a1a" stroke-width="1.9"/>
<line x1="34" y1="662.8" x2="1559.5" y2="662.8" stroke="#1a1a1a" stroke-width="1.9"/>
<line x1="34" y1="705.9" x2="428.6" y2="705.9" stroke="#1a1a1a" stroke-width="1.9"/>
<line x1="564.3" y1="705.9" x2="1559.5" y2="705.9" stroke="#1a1a1a" stroke-width="1.9"/>
<line x1="34" y1="747.6" x2="428.6" y2="747.6" stroke="#1a1a1a" stroke-width="1.9"/>
<line x1="564.3" y1="747.6" x2="1559.5" y2="747.6" stroke="#1a1a1a" stroke-width="1.9"/>
<line x1="34" y1="789.8" x2="428.6" y2="789.8" stroke="#1a1a1a" stroke-width="1.9"/>
<line x1="564.3" y1="789.8" x2="1559.5" y2="789.8" stroke="#1a1a1a" stroke-width="1.9"/>
<line x1="34" y1="832.2" x2="428.6" y2="832.2" stroke="#1a1a1a" stroke-width="1.9"/>
<line x1="564.3" y1="832.2" x2="1559.5" y2="832.2" stroke="#1a1a1a" stroke-width="1.9"/>
<line x1="34" y1="874.5" x2="428.6" y2="874.5" stroke="#1a1a1a" stroke-width="1.9"/>
<line x1="564.3" y1="874.5" x2="1559.5" y2="874.5" stroke="#1a1a1a" stroke-width="1.9"/>
<rect x="34" y="572.7" width="1525.5" height="341.69999999999993" fill="none" stroke="#111" stroke-width="2.7"/>
</svg>
</body></html>
